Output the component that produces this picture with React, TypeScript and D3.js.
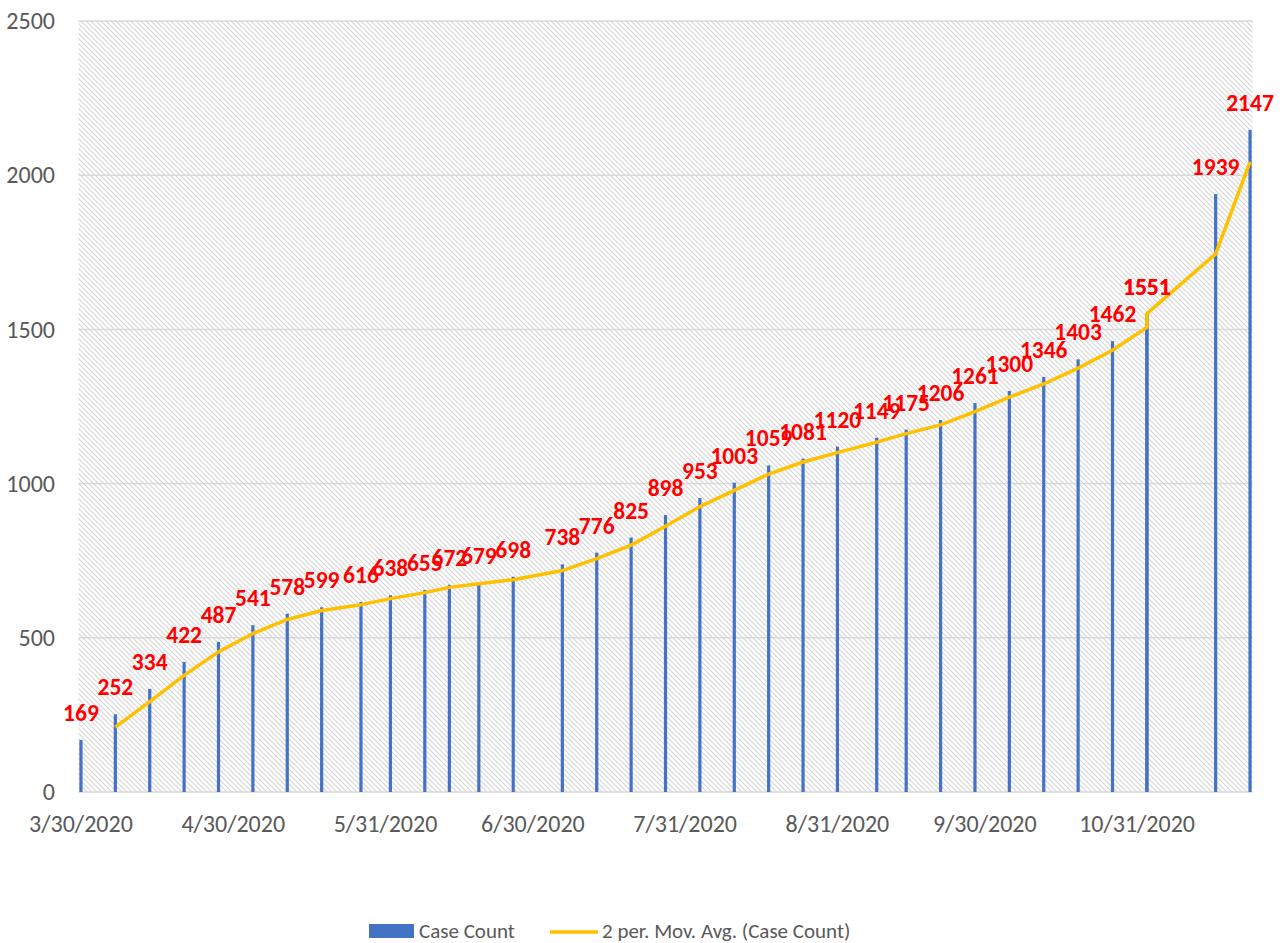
import React from "react";
import * as d3 from "d3";

const dates: string[] = [
  "3/30/2020", "4/6/2020", "4/13/2020", "4/20/2020", "4/27/2020", "5/4/2020", "5/11/2020", "5/18/2020",
  "5/26/2020", "6/1/2020", "6/8/2020", "6/13/2020", "6/19/2020", "6/26/2020", "7/6/2020", "7/13/2020",
  "7/20/2020", "7/27/2020", "8/3/2020", "8/10/2020", "8/17/2020", "8/24/2020", "8/31/2020", "9/8/2020",
  "9/14/2020", "9/21/2020", "9/28/2020", "10/5/2020", "10/12/2020", "10/19/2020", "10/26/2020",
  "11/2/2020", "11/2/2020", "11/16/2020", "11/23/2020",
];
const caseCount: number[] = [
  169, 252, 334, 422, 487, 541, 578, 599, 616, 638, 655, 672, 679, 698, 738, 776, 825, 898, 953, 1003,
  1059, 1081, 1120, 1149, 1175, 1206, 1261, 1300, 1346, 1403, 1462, 1551, 1551, 1939, 2147,
];
const xTickLabels: string[] = [
  "3/30/2020", "4/30/2020", "5/31/2020", "6/30/2020", "7/31/2020", "8/31/2020", "9/30/2020", "10/31/2020",
];
const yTicks: number[] = [0, 500, 1000, 1500, 2000, 2500];
const seriesNames: string[] = ["Case Count", "2 per. Mov. Avg. (Case Count)"];

const W = 1283;
const H = 943;
const left = 78.5;
const right = 1252.5;
const top = 21;
const bottom = 792;
const FONT = "Carlito, Calibri, Lato, sans-serif";

const parse = d3.timeParse("%m/%d/%Y");
const dayCenter = (s: string) => d3.timeHour.offset(parse(s) as Date, 12);

export default function App() {
  const x = d3
    .scaleTime()
    .domain([parse(dates[0]) as Date, d3.timeDay.offset(parse(dates[dates.length - 1]) as Date, 1)])
    .range([left, right]);
  const y = d3.scaleLinear().domain([0, 2500]).range([bottom, top]);

  const ma = caseCount.slice(1).map((v, i) => ({ d: dates[i + 1], v: (v + caseCount[i]) / 2 }));
  const line = d3
    .line<{ d: string; v: number }>()
    .x((p) => x(dayCenter(p.d)))
    .y((p) => y(p.v));

  return (
    <svg width={W} height={H} style={{ position: "absolute", left: 0, top: 0, background: "#fff" }}>
      <defs>
        <pattern id="hatch" width="5" height="5" patternUnits="userSpaceOnUse">
          <path d="M-1,-1 L6,6 M-1,4 L1,6 M4,-1 L6,1" stroke="#d6d6d6" strokeWidth="1.2" />
        </pattern>
      </defs>
      <rect x={left} y={top} width={right - left} height={bottom - top} fill="url(#hatch)" />
      {yTicks.map((t) => (
        <g key={t}>
          <line x1={left} x2={right} y1={y(t)} y2={y(t)} stroke="#d9d9d9" strokeWidth={1.5} />
          <text x={55} y={y(t)} dy="0.34em" textAnchor="end" fontFamily={FONT} fontSize={24} fill="#595959">
            {t}
          </text>
        </g>
      ))}
      {xTickLabels.map((t) => (
        <text key={t} x={x(dayCenter(t))} y={832} textAnchor="middle" fontFamily={FONT} fontSize={24} fill="#595959">
          {t}
        </text>
      ))}
      {caseCount.map((v, i) => (
        <rect
          key={i}
          x={x(dayCenter(dates[i])) - 1.6}
          width={3.2}
          y={y(v)}
          height={bottom - y(v)}
          fill="#4472C4"
        />
      ))}
      <path d={line(ma) || ""} fill="none" stroke="#FFC000" strokeWidth={3.5} strokeLinejoin="round" />
      {caseCount.map((v, i) => (
        <text
          key={i}
          x={x(dayCenter(dates[i]))}
          y={y(v) - 19}
          textAnchor="middle"
          fontFamily={FONT}
          fontWeight="bold"
          fontSize={23.5}
          fill="#FF0000"
        >
          {v}
        </text>
      ))}
      <g>
        <rect x={369} y={924} width={45} height={14} fill="#4472C4" />
        <text x={419} y={938} fontFamily={FONT} fontSize={21} fill="#595959">
          {seriesNames[0]}
        </text>
        <line x1={550} x2={598} y1={932} y2={932} stroke="#FFC000" strokeWidth={3.5} />
        <text x={602} y={938} fontFamily={FONT} fontSize={21} fill="#595959">
          {seriesNames[1]}
        </text>
      </g>
    </svg>
  );
}
